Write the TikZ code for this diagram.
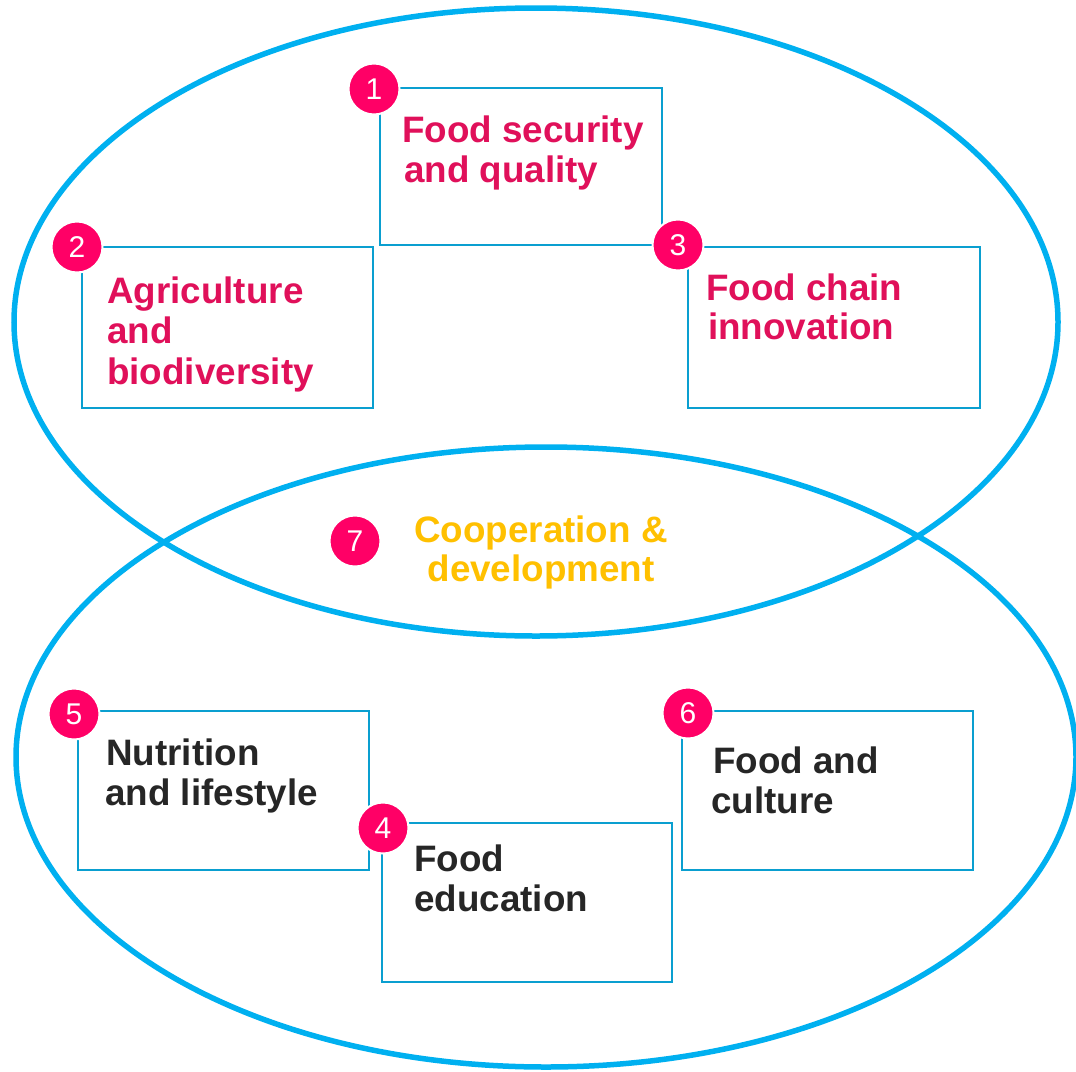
\documentclass[tikz,border=0pt]{standalone}
\usepackage{fontspec}
\setmainfont{Liberation Sans}
\definecolor{ellblue}{HTML}{00B0F0}
\definecolor{boxblue}{HTML}{0A9FD0}
\definecolor{numpink}{HTML}{FF0066}
\definecolor{txtpink}{HTML}{E0105A}
\definecolor{txtyellow}{HTML}{FFC000}
\definecolor{txtdark}{HTML}{262626}
\begin{document}
\begin{tikzpicture}[x=1pt,y=-1pt,
  ell/.style={draw=ellblue,line width=5.5pt},
  topicbox/.style={draw=boxblue,line width=2.8pt},
  numc/.style={circle,fill=numpink,draw=white,line width=2pt,minimum size=51pt,inner sep=0pt,text=white,font=\fontsize{30}{32}\selectfont},
  lbl/.style={anchor=base west,inner sep=0pt,font=\bfseries\fontsize{36.8}{40}\selectfont},
  pinklbl/.style={lbl,text=txtpink},
  darklbl/.style={lbl,text=txtdark},
  yellbl/.style={anchor=base,inner sep=0pt,font=\bfseries\fontsize{36.8}{40}\selectfont,text=txtyellow}]
\useasboundingbox (0,0) rectangle (1076,1071);
\fill[white] (0,0) rectangle (1076,1071);
% ellipses
\draw[ell] (536,322) ellipse [x radius=522, y radius=314];
\draw[ell] (546,757) ellipse [x radius=530, y radius=310];
% boxes
\draw[topicbox] (380,88) rectangle (662,245);
\draw[topicbox] (82,247) rectangle (373,408);
\draw[topicbox] (688,247) rectangle (980,408);
\draw[topicbox] (78,711) rectangle (369,870);
\draw[topicbox] (382,823) rectangle (672,982);
\draw[topicbox] (682,711) rectangle (973,870);
% numbers
\node[numc] (n1) at (374,89) {1};
\node[numc] (n2) at (77,247) {2};
\node[numc] (n3) at (678,245) {3};
\node[numc] (n5) at (74,714) {5};
\node[numc] (n4) at (383,828) {4};
\node[numc] (n6) at (688,713) {6};
\node[numc] (n7) at (355,541) {7};
% labels
\node[pinklbl] (t1a) at (402,142) {Food security};
\node[pinklbl] (t1b) at (404,182) {and quality};
\node[pinklbl] (t2a) at (107,303) {Agriculture};
\node[pinklbl] (t2b) at (107,343) {and};
\node[pinklbl] (t2c) at (107,384) {biodiversity};
\node[pinklbl] (t3a) at (706,300) {Food chain};
\node[pinklbl] (t3b) at (708,339) {innovation};
\node[yellbl] (t7a) at (541,542) {Cooperation \&};
\node[yellbl] (t7b) at (541,581) {development};
\node[darklbl] (t5a) at (106,765) {Nutrition};
\node[darklbl] (t5b) at (105,805) {and lifestyle};
\node[darklbl] (t4a) at (414,871) {Food};
\node[darklbl] (t4b) at (414,911) {education};
\node[darklbl] (t6a) at (713,773) {Food and};
\node[darklbl] (t6b) at (711,813) {culture};
\end{tikzpicture}
\end{document}
